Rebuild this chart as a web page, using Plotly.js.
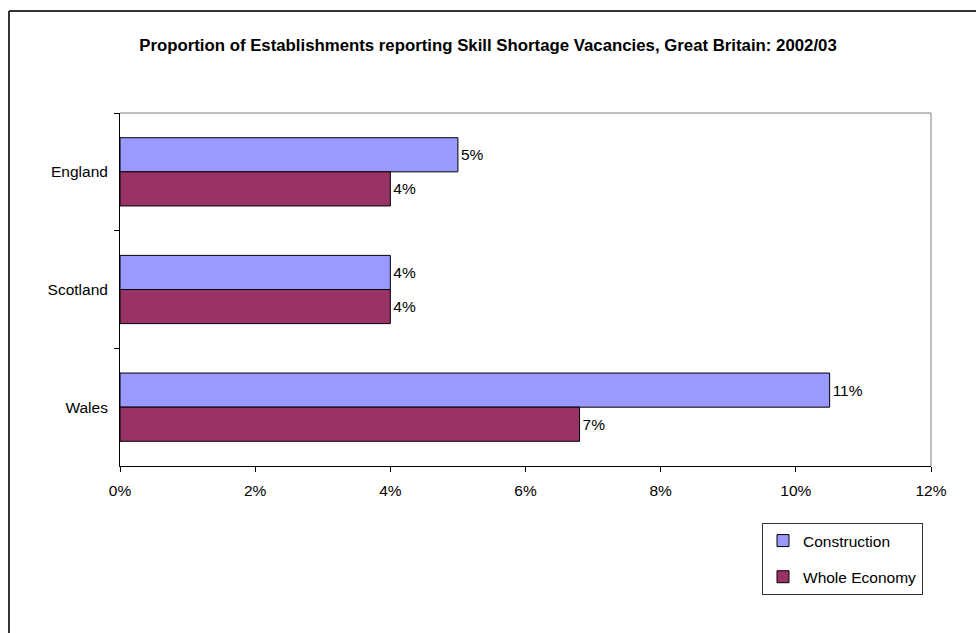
<!DOCTYPE html>
<html>
<head>
<meta charset="utf-8">
<script src="https://cdn.plot.ly/plotly-3.0.1.min.js"></script>
<style>
html,body{margin:0;padding:0;background:#fff;}
#chart{width:976px;height:633px;}
</style>
</head>
<body>
<div id="chart"></div>
<script>
const regions = ["England", "Scotland", "Wales"];
const construction = [5.0, 4.0, 10.5];
const wholeEconomy = [4.0, 4.0, 6.8];
const seriesNames = ["Construction", "Whole Economy"];
const xTickVals = [0, 2, 4, 6, 8, 10, 12];
const xTickText = ["0%", "2%", "4%", "6%", "8%", "10%", "12%"];

const FONT = '"Liberation Sans", Arial, sans-serif';
const fmt = v => Math.round(v) + '%';

const traces = [
  {
    type: 'bar', orientation: 'h', name: seriesNames[0],
    y: regions, x: construction,
    text: construction.map(fmt), textposition: 'outside', cliponaxis: false,
    textfont: {family: FONT, size: 15.5, color: '#000'},
    marker: {color: '#9999FF', line: {color: '#000', width: 1}},
    legendgroup: 'a', hoverinfo: 'x+y'
  },
  {
    type: 'bar', orientation: 'h', name: seriesNames[1],
    y: regions, x: wholeEconomy,
    text: wholeEconomy.map(fmt), textposition: 'outside', cliponaxis: false,
    textfont: {family: FONT, size: 15.5, color: '#000'},
    marker: {color: '#993366', line: {color: '#000', width: 1}},
    legendgroup: 'b', hoverinfo: 'x+y'
  }
];

const L = 120, R = 931, T = 113, B = 466;
const pw = R - L, ph = B - T;
const px = v => (v - L) / pw;
const py = v => (B - v) / ph;

const layout = {
  width: 976, height: 633,
  margin: {l: L, r: 976 - R, t: T, b: 633 - B, pad: 0},
  paper_bgcolor: '#fff', plot_bgcolor: '#fff',
  font: {family: FONT, size: 15.5, color: '#000'},
  title: {
    text: '<b>Proportion of Establishments reporting Skill Shortage Vacancies, Great Britain: 2002/03</b>',
    font: {family: FONT, size: 16.8, color: '#000'},
    x: 0.5, xref: 'container', xanchor: 'center',
    y: 1 - 45 / 633, yref: 'container', yanchor: 'middle'
  },
  barmode: 'group', bargap: 0.42, bargroupgap: 0,
  xaxis: {
    range: [0, 12], tickvals: xTickVals, ticktext: xTickText,
    showgrid: false, zeroline: false,
    showline: true, linecolor: '#000', linewidth: 1,
    ticks: 'outside', ticklen: 5, tickcolor: '#000', tickwidth: 1,
    ticklabelstandoff: 5,
    tickfont: {family: FONT, size: 15.5, color: '#000'}
  },
  yaxis: {
    type: 'category', autorange: 'reversed',
    showgrid: false, zeroline: false,
    showline: true, linecolor: '#000', linewidth: 1,
    ticks: 'outside', ticklen: 5, tickcolor: '#000', tickwidth: 1, tickson: 'boundaries',
    ticklabelstandoff: 8,
    tickfont: {family: FONT, size: 15.5, color: '#000'}
  },
  legend: {
    x: px(762), y: py(523), xanchor: 'left', yanchor: 'top',
    bgcolor: '#fff', bordercolor: '#333', borderwidth: 1,
    font: {family: FONT, size: 15.5, color: '#000'},
    traceorder: 'grouped', tracegroupgap: 13, itemwidth: 30
  },
  showlegend: true,
  shapes: [
    {type: 'line', xref: 'paper', yref: 'paper', x0: 0, x1: 1, y0: 1, y1: 1, line: {color: '#808080', width: 1}, layer: 'below'},
    {type: 'line', xref: 'paper', yref: 'paper', x0: 1, x1: 1, y0: 0, y1: 1, line: {color: '#808080', width: 1}, layer: 'below'},
    {type: 'line', xref: 'paper', yref: 'paper', x0: px(9), x1: px(9), y0: py(11), y1: py(700), line: {color: '#333', width: 2}},
    {type: 'line', xref: 'paper', yref: 'paper', x0: px(9), x1: px(1000), y0: py(11), y1: py(11), line: {color: '#333', width: 2}}
  ]
};

Plotly.newPlot('chart', traces, layout, {displayModeBar: false, staticPlot: true});
</script>
</body>
</html>
